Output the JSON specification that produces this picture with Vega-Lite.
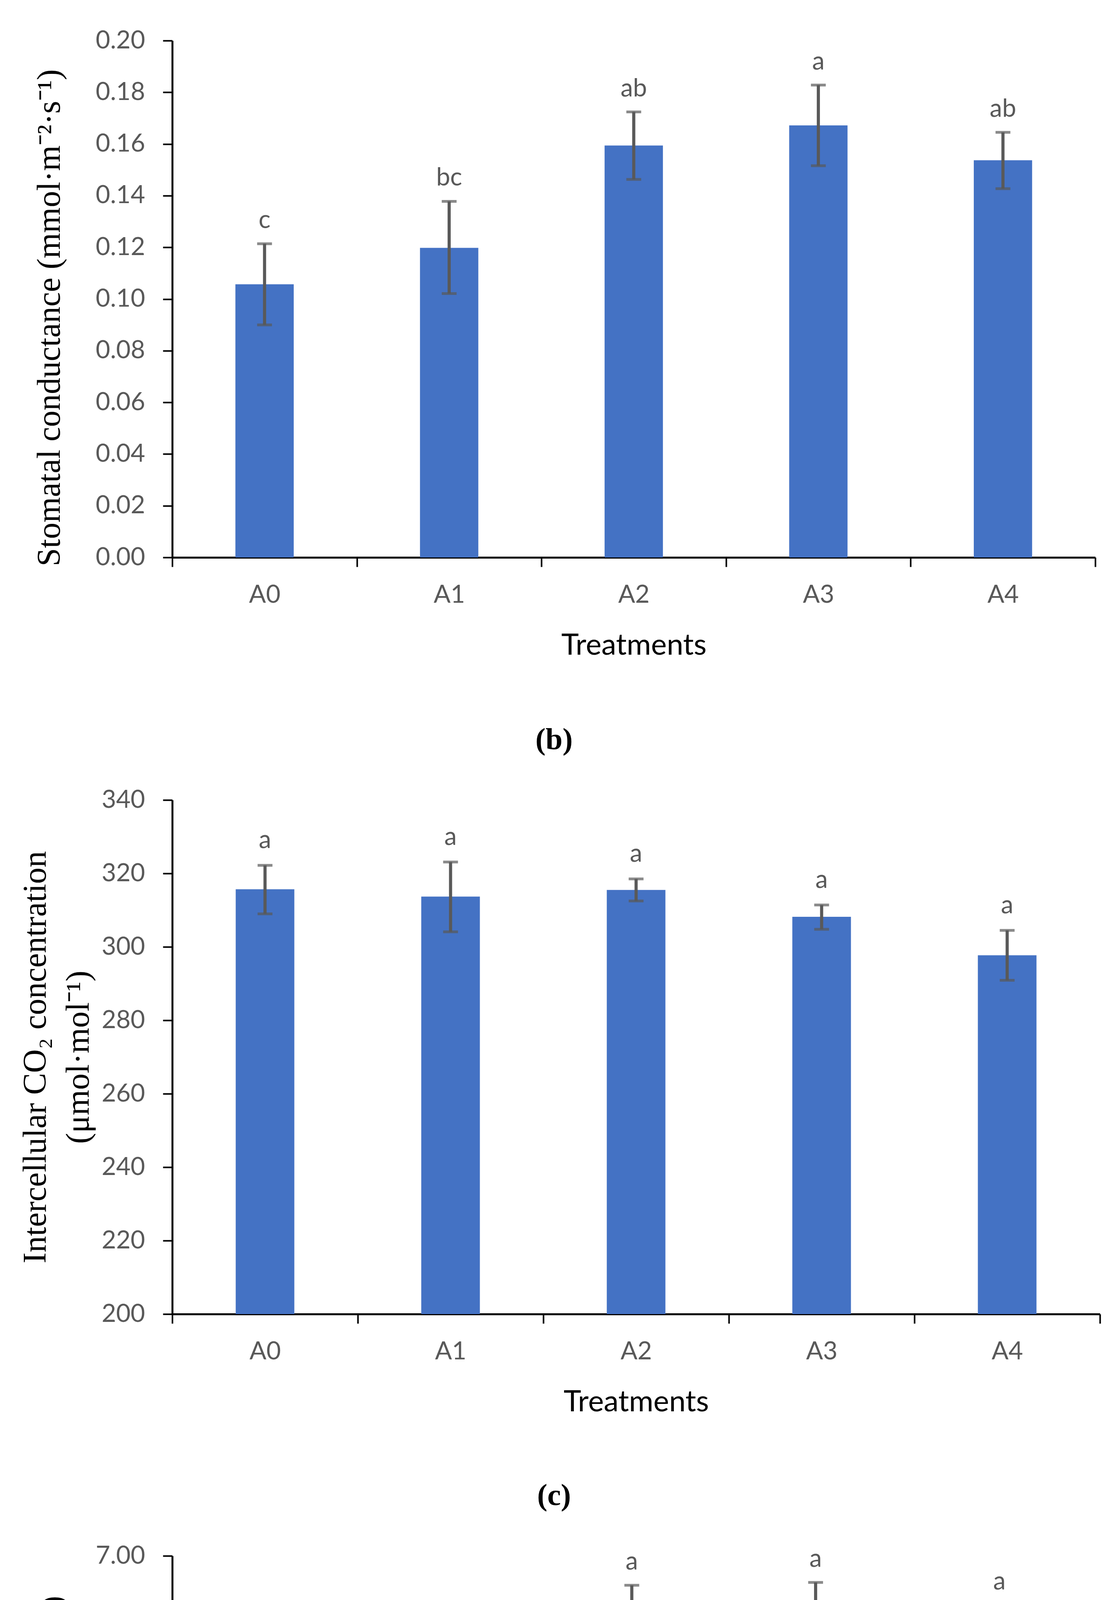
{
  "$schema": "https://vega.github.io/schema/vega-lite/v6.json",
  "padding": {"left": 49, "top": 72, "right": 5, "bottom": 5},
  "background": "white",
  "datasets": {
    "b": [
      {"t": "A0", "mean": 0.1057, "lo": 0.0900, "hi": 0.1214, "letter": "c"},
      {"t": "A1", "mean": 0.1198, "lo": 0.1021, "hi": 0.1378, "letter": "bc"},
      {"t": "A2", "mean": 0.1594, "lo": 0.1463, "hi": 0.1724, "letter": "ab"},
      {"t": "A3", "mean": 0.1672, "lo": 0.1516, "hi": 0.1828, "letter": "a"},
      {"t": "A4", "mean": 0.1537, "lo": 0.1427, "hi": 0.1645, "letter": "ab"}
    ],
    "c": [
      {"t": "A0", "mean": 315.7, "lo": 309.0, "hi": 322.2, "letter": "a"},
      {"t": "A1", "mean": 313.7, "lo": 304.1, "hi": 323.1, "letter": "a"},
      {"t": "A2", "mean": 315.5, "lo": 312.5, "hi": 318.5, "letter": "a"},
      {"t": "A3", "mean": 308.2, "lo": 304.8, "hi": 311.4, "letter": "a"},
      {"t": "A4", "mean": 297.7, "lo": 290.9, "hi": 304.5, "letter": "a"}
    ],
    "d": [
      {"t": "A0", "mean": 4.125, "lo": 3.599, "hi": 4.637, "letter": "b"},
      {"t": "A1", "mean": 4.777, "lo": 4.212, "hi": 5.336, "letter": "ab"},
      {"t": "A2", "mean": 6.168, "lo": 5.749, "hi": 6.593, "letter": "a"},
      {"t": "A3", "mean": 6.181, "lo": 5.722, "hi": 6.633, "letter": "a"},
      {"t": "A4", "mean": 5.981, "lo": 5.649, "hi": 6.321, "letter": "a"}
    ]
  },
  "spacing": 82,
  "vconcat": [
    {
      "width": 2363,
      "height": 1323,
      "data": {"name": "b"},
      "title": {"text": "(b)", "orient": "bottom", "offset": 166, "dx": -204},
      "encoding": {
        "x": {"field": "t", "type": "nominal", "scale": {"paddingInner": 0, "paddingOuter": 0}, "axis": {"title": "Treatments"}}
      },
      "layer": [
        {
          "mark": {"type": "bar", "color": "#4472C4", "width": {"band": 0.316}},
          "encoding": {
            "y": {"field": "mean", "type": "quantitative", "scale": {"domain": [0, 0.2], "nice": false, "zero": false},
              "axis": {"title": "Stomatal conductance (mmol·m⁻²·s⁻¹)", "values": [0, 0.02, 0.04, 0.06, 0.08, 0.1, 0.12, 0.14, 0.16, 0.18, 0.2], "format": ".2f", "titlePadding": 74, "titleY": 709}},
            "y2": {"datum": 0}
          }
        },
        {
          "mark": {"type": "rule", "color": "#595959", "strokeWidth": 8},
          "encoding": {"y": {"field": "lo", "type": "quantitative"}, "y2": {"field": "hi"}}
        },
        {
          "mark": {"type": "tick", "color": "#595959", "thickness": 7, "size": 38},
          "encoding": {"y": {"field": "hi", "type": "quantitative"}}
        },
        {
          "mark": {"type": "tick", "color": "#595959", "thickness": 7, "size": 38},
          "encoding": {"y": {"field": "lo", "type": "quantitative"}}
        },
        {
          "mark": {"type": "text", "font": "Lato", "fontSize": 64, "color": "#595959", "baseline": "alphabetic", "dy": -40},
          "encoding": {"y": {"field": "hi", "type": "quantitative"}, "text": {"field": "letter"}}
        }
      ]
    },
    {
      "width": 2375,
      "height": 1316,
      "data": {"name": "c"},
      "title": {"text": "(c)", "orient": "bottom", "offset": 164, "dx": -210},
      "encoding": {
        "x": {"field": "t", "type": "nominal", "scale": {"paddingInner": 0, "paddingOuter": 0}, "axis": {"title": "Treatments"}}
      },
      "layer": [
        {
          "mark": {"type": "bar", "color": "#4472C4", "width": {"band": 0.316}},
          "encoding": {
            "y": {"field": "mean", "type": "quantitative", "scale": {"domain": [200, 340], "nice": false, "zero": false},
              "axis": {"title": ["Intercellular CO₂ concentration", "(μmol·mol⁻¹)"], "titleLineHeight": 110, "values": [200, 220, 240, 260, 280, 300, 320, 340], "format": "d", "titlePadding": 15}},
            "y2": {"datum": 200}
          }
        },
        {
          "mark": {"type": "rule", "color": "#595959", "strokeWidth": 8},
          "encoding": {"y": {"field": "lo", "type": "quantitative"}, "y2": {"field": "hi"}}
        },
        {
          "mark": {"type": "tick", "color": "#595959", "thickness": 7, "size": 38},
          "encoding": {"y": {"field": "hi", "type": "quantitative"}}
        },
        {
          "mark": {"type": "tick", "color": "#595959", "thickness": 7, "size": 38},
          "encoding": {"y": {"field": "lo", "type": "quantitative"}}
        },
        {
          "mark": {"type": "text", "font": "Lato", "fontSize": 64, "color": "#595959", "baseline": "alphabetic", "dy": -44},
          "encoding": {"y": {"field": "hi", "type": "quantitative"}, "text": {"field": "letter"}}
        }
      ]
    },
    {
      "width": 2353,
      "height": 1295,
      "data": {"name": "d"},
      "title": {"text": "(d)", "orient": "bottom", "offset": 160, "dx": -199},
      "encoding": {
        "x": {"field": "t", "type": "nominal", "scale": {"paddingInner": 0, "paddingOuter": 0}, "axis": {"title": "Treatments"}}
      },
      "layer": [
        {
          "mark": {"type": "bar", "color": "#4472C4", "width": {"band": 0.316}},
          "encoding": {
            "y": {"field": "mean", "type": "quantitative", "scale": {"domain": [0, 7], "nice": false, "zero": false},
              "axis": {"title": "Transpiration rate  (mmol·m⁻²·s⁻¹)", "values": [0, 1, 2, 3, 4, 5, 6, 7], "format": ".2f", "titlePadding": 66, "titleY": 667}},
            "y2": {"datum": 0}
          }
        },
        {
          "mark": {"type": "rule", "color": "#595959", "strokeWidth": 8},
          "encoding": {"y": {"field": "lo", "type": "quantitative"}, "y2": {"field": "hi"}}
        },
        {
          "mark": {"type": "tick", "color": "#595959", "thickness": 7, "size": 38},
          "encoding": {"y": {"field": "hi", "type": "quantitative"}}
        },
        {
          "mark": {"type": "tick", "color": "#595959", "thickness": 7, "size": 38},
          "encoding": {"y": {"field": "lo", "type": "quantitative"}}
        },
        {
          "mark": {"type": "text", "font": "Lato", "fontSize": 64, "color": "#595959", "baseline": "alphabetic", "dy": -40},
          "encoding": {"y": {"field": "hi", "type": "quantitative"}, "text": {"field": "letter"}}
        }
      ]
    }
  ],
  "config": {
    "view": {"stroke": null},
    "axis": {
      "domainColor": "black",
      "domainWidth": 5,
      "tickColor": "black",
      "tickWidth": 4,
      "tickSize": 24,
      "grid": false,
      "labelFont": "Lato",
      "labelFontSize": 64,
      "labelColor": "#595959"
    },
    "axisX": {
      "labelAngle": 0,
      "tickBand": "extent",
      "labelPadding": 40,
      "titleFont": "Lato",
      "titleFontSize": 76,
      "titleFontWeight": "normal",
      "titleColor": "black",
      "titlePadding": 60
    },
    "axisY": {
      "labelPadding": 46,
      "titleFont": "Liberation Serif",
      "titleFontSize": 84,
      "titleFontWeight": "normal",
      "titleColor": "black"
    },
    "title": {
      "font": "Liberation Serif",
      "fontSize": 78,
      "fontWeight": "bold",
      "color": "black",
      "anchor": "middle"
    }
  }
}
